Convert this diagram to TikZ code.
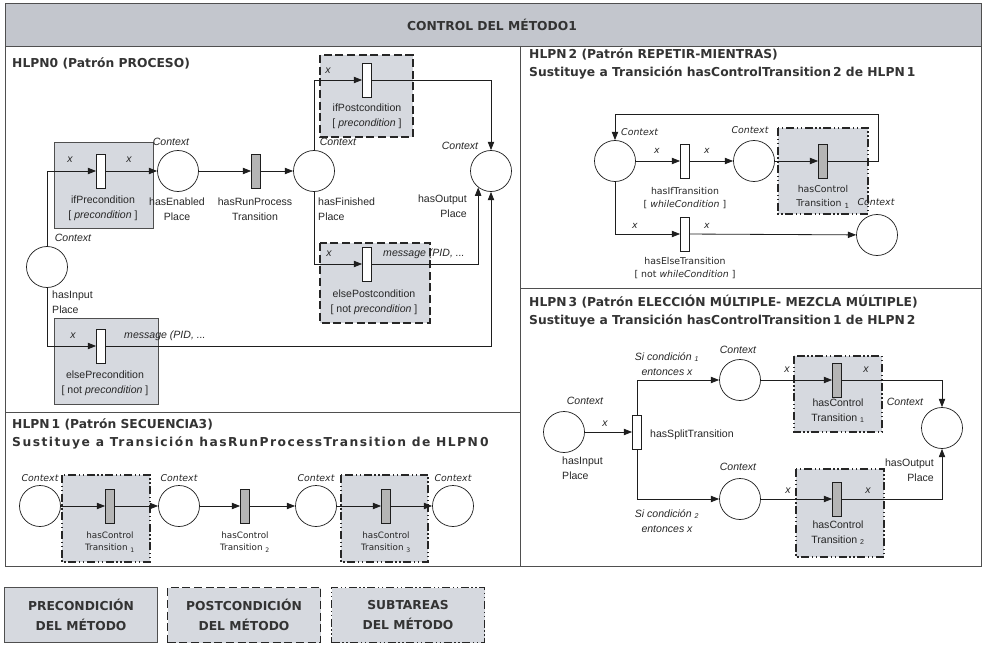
\documentclass[tikz,border=0pt]{standalone}
\usepackage{fontspec}
\setmainfont{Liberation Sans}
\newfontfamily\dejavu{DejaVu Sans}
\newfontfamily\dejavuwide[LetterSpace=12]{DejaVu Sans}
\usepackage{tikz}
\usetikzlibrary{arrows.meta}
\definecolor{HeadGray}{HTML}{C3C6CD}
\definecolor{BoxGray}{HTML}{D6D9DF}
\definecolor{TransGray}{HTML}{B5B5B5}
\definecolor{FrameGray}{HTML}{4F4F4F}
\definecolor{ArcBlack}{HTML}{1E1E1E}

\begin{document}
\begin{tikzpicture}[x=0.3mm,y=-0.3mm,
  frame/.style={draw=FrameGray,line width=0.8pt},
  place/.style={circle,draw=ArcBlack,fill=white,line width=0.6pt,minimum size=12.3mm,inner sep=0pt},
  wtrans/.style={rectangle,draw=ArcBlack,fill=white,line width=0.6pt,minimum width=2.7mm,minimum height=10.2mm,inner sep=0pt},
  gtrans/.style={wtrans,fill=TransGray},
  arc/.style={draw=ArcBlack,line width=0.7pt,-{Triangle[length=2.5mm,width=1.9mm]}},
  prebox/.style={draw=FrameGray,fill=BoxGray,line width=0.8pt},
  postbox/.style={draw=black!85,fill=BoxGray,line width=1.5pt,dash pattern=on 2.4mm off 1.1mm},
  subbox/.style={draw=black!85,fill=BoxGray,line width=1.5pt,dash pattern=on 2.4mm off 0.8mm on 0.4mm off 0.8mm on 0.4mm off 0.8mm},
  lbl/.style={font=\fontsize{9}{12.5}\selectfont,text=black!85,align=center,inner sep=0pt},
  ctx/.style={lbl,font=\fontsize{9}{12.5}\selectfont\itshape},
  slbl/.style={font=\dejavu\fontsize{7.5}{10.5}\selectfont,text=black!85,align=center,inner sep=0pt},
  sctx/.style={slbl,font=\dejavu\fontsize{8}{10.5}\selectfont\itshape},
  mlbl/.style={font=\dejavu\fontsize{8}{11.5}\selectfont,text=black!85,align=center,inner sep=0pt},
  mctx/.style={mlbl,font=\dejavu\fontsize{8}{11.5}\selectfont\itshape},
  head/.style={font=\dejavu\bfseries\fontsize{10.5}{15.5}\selectfont,text=black!80,align=left,inner sep=0pt},
  legend/.style={head,font=\dejavu\bfseries\fontsize{10.5}{17}\selectfont,align=center,minimum width=45.9mm,minimum height=16.5mm}]
  \useasboundingbox (0,0) rectangle (982,649);

  % frame and header
  \draw[frame,fill=HeadGray] (5,3) rectangle (981,46);
  \node[head] (mainT) at (492,25) {CONTROL DEL MÉTODO1};
  \draw[frame] (5,46) rectangle (981,566);
  \draw[frame] (520,46) -- (520,566);
  \draw[frame] (5,412) -- (520,412);
  \draw[frame] (520,288) -- (981,288);

  % HLPN0
  \node[head,anchor=west] (h0T) at (12,63) {HLPN0 (Patrón PROCESO)};
  \draw[prebox] (54,142) rectangle (153,228);
  \draw[postbox] (320,55) rectangle (413,137);
  \draw[postbox] (320,243) rectangle (430,323);
  \draw[prebox] (54,318) rectangle (158,404);
  \node[place] (inP) at (47,267) {};
  \node[wtrans] (ifPre) at (101,171) {};
  \node[place] (enP) at (178,171) {};
  \node[gtrans] (runT) at (256,171) {};
  \node[place] (finP) at (314,171) {};
  \node[wtrans] (ifPost) at (367,80) {};
  \node[wtrans] (elsePost) at (367,264) {};
  \node[place] (outP) at (491,171) {};
  \node[wtrans] (elsePre) at (101,346) {};
  \draw[arc] (inP.north) |- (ifPre.west);
  \draw[arc] (ifPre) -- (enP);
  \draw[arc] (enP) -- (runT);
  \draw[arc] (runT) -- (finP);
  \draw[arc] (finP.north) |- (ifPost.west);
  \draw[arc] (ifPost.east) -| (outP.north);
  \draw[arc] (finP.south) |- (elsePost.west);
  \draw[arc] (elsePost.east) -| (outP.-128);
  \draw[arc] (inP.south) |- (elsePre.west);
  \draw[arc] (elsePre.east) -| (outP.south);
  \node[ctx] (inPc) at (73,238) {Context};
  \node[ctx] (enPc) at (171,142) {Context};
  \node[ctx] (finPc) at (338,142) {Context};
  \node[ctx] (outPc) at (460,146) {Context};
  \node[lbl] (ifPreL) at (103,208) {ifPrecondition\\{[} \textit{precondition} {]}};
  \node[lbl] (enPL) at (177,209) {hasEnabled\\Place};
  \node[lbl] (runTL) at (255,209) {hasRunProcess\\Transition};
  \node[lbl,anchor=west,align=left] (finPL) at (318,209) {hasFinished\\Place};
  \node[lbl] (ifPostL) at (367,116) {ifPostcondition\\{[} \textit{precondition} {]}};
  \node[lbl] (elsePostL) at (374,302) {elsePostcondition\\{[} not \textit{precondition} {]}};
  \node[lbl,anchor=east,align=right] (outPL) at (467,206) {hasOutput\\Place};
  \node[lbl,anchor=west,align=left] (inPL) at (52,302) {hasInput\\Place};
  \node[lbl] (elsePreL) at (105,383) {elsePrecondition\\{[} not \textit{precondition} {]}};
  \node[ctx] (xa) at (70,160) {x};
  \node[ctx] (xb) at (129,160) {x};
  \node[ctx] (xc) at (328,71) {x};
  \node[ctx] (xd) at (329,254) {x};
  \node[ctx] (xe) at (73,336) {x};
  \node[ctx,anchor=west] (msgA) at (383,254) {message (PID, ...};
  \node[ctx,anchor=west] (msgB) at (124,336) {message (PID, ...};

  % HLPN1
  \node[head,anchor=west] (h1T) at (12,434) {HLPN\,1 (Patrón SECUENCIA3)\\{\dejavuwide\bfseries Sustituye a Transición hasRunProcessTransition de HLPN\,0}};
  \draw[subbox] (62,475) rectangle (150,562);
  \draw[subbox] (341,475) rectangle (428,562);
  \foreach \nm/\px in {s1/40,s2/179,s3/316,s4/453}{
    \node[place] (\nm) at (\px,506) {};
    \node[sctx] (\nm-c) at (\px,478) {Context};
  }
  \foreach \nm/\px/\k in {ct1/110/1,ct2/245/2,ct3/386/3}{
    \node[gtrans] (\nm) at (\px,506) {};
    \node[slbl] (\nm-l) at (\px,542) {hasControl\\Transition \textsubscript{\k}};
  }
  \foreach \a/\b in {s1/ct1,ct1/s2,s2/ct2,ct2/s3,s3/ct3,ct3/s4}
    \draw[arc] (\a) -- (\b);

  % HLPN2
  \node[head,anchor=west] (h2T) at (529,64) {HLPN\,2 (Patrón REPETIR-MIENTRAS)\\Sustituye a Transición hasControlTransition\,2 de HLPN\,1};
  \draw[subbox] (778,128) rectangle (868,214);
  \node[place] (q1) at (615,161) {};
  \node[wtrans] (ifT) at (685,161) {};
  \node[place] (q2) at (754,161) {};
  \node[gtrans] (loopT) at (823,161) {};
  \node[wtrans] (elseT) at (685,234) {};
  \node[place] (q3) at (877,235) {};
  \coordinate (loopC) at (878,114);
  \draw[arc] (q1) -- (ifT);
  \draw[arc] (ifT) -- (q2);
  \draw[arc] (q2) -- (loopT);
  \draw[arc] (loopT.east) -| (loopC) -| (q1.north);
  \draw[arc] (q1.south) |- (elseT.west);
  \draw[arc] (elseT) -- (q3);
  \node[mctx,anchor=west] (q1c) at (621,132) {Context};
  \node[mctx] (q2c) at (750,130) {Context};
  \node[mctx] (q3c) at (876,202) {Context};
  \node[mctx] (xf) at (657,151) {x};
  \node[mctx] (xg) at (707,151) {x};
  \node[mctx] (xh) at (635,226) {x};
  \node[mctx] (xi) at (707,226) {x};
  \node[mlbl] (ifTL) at (685,198) {hasIfTransition\\{[} \textit{whileCondition} {]}};
  \node[mlbl] (loopTL) at (823,197) {hasControl\\Transition \textsubscript{1}};
  \node[mlbl] (elseTL) at (685,268) {hasElseTransition\\{[} not \textit{whileCondition} {]}};

  % HLPN3
  \node[head,anchor=west] (h3T) at (529,311) {HLPN\,3 (Patrón ELECCIÓN MÚLTIPLE- MEZCLA MÚLTIPLE)\\Sustituye a Transición hasControlTransition\,1 de HLPN\,2};
  \draw[subbox] (794,356) rectangle (882,432);
  \draw[subbox] (796,469) rectangle (884,557);
  \node[place] (inQ) at (564,432) {};
  \node[wtrans] (splitT) at (637,432) {};
  \node[place] (upQ) at (740,380) {};
  \node[place] (lowQ) at (740,499) {};
  \node[gtrans] (c1T) at (837,380) {};
  \node[gtrans] (c2T) at (837,499) {};
  \node[place] (outQ) at (942,428) {};
  \draw[arc] (inQ) -- (splitT);
  \draw[arc] (splitT.north) |- (upQ.west);
  \draw[arc] (splitT.south) |- (lowQ.west);
  \draw[arc] (upQ) -- (c1T);
  \draw[arc] (c1T.east) -| (outQ.north);
  \draw[arc] (lowQ) -- (c2T);
  \draw[arc] (c2T.east) -| (outQ.south);
  \node[ctx] (inQc) at (585,401) {Context};
  \node[ctx] (upQc) at (738,350) {Context};
  \node[ctx] (lowQc) at (738,467) {Context};
  \node[ctx] (outQc) at (905,402) {Context};
  \node[lbl,anchor=west,align=left] (inQL) at (562,468) {hasInput\\Place};
  \node[lbl,anchor=east,align=right] (outQL) at (934,470) {hasOutput\\Place};
  \node[lbl,anchor=west] (splitTL) at (650,435) {hasSplitTransition};
  \node[ctx] (cond1) at (667,364) {Si condición \textsubscript{1}\\entonces x};
  \node[ctx] (cond2) at (667,521) {Si condición \textsubscript{2}\\entonces x};
  \node[ctx] (xj) at (605,424) {x};
  \node[ctx] (xk) at (787,370) {x};
  \node[ctx] (xl) at (866,370) {x};
  \node[ctx] (xm) at (788,491) {x};
  \node[ctx] (xn) at (868,491) {x};
  \node[lbl] (c1TL) at (838,411) {hasControl\\Transition \textsubscript{1}};
  \node[lbl] (c2TL) at (838,533) {hasControl\\Transition \textsubscript{2}};

  % legend
  \foreach \nm/\st/\cx/\txt in {legPre/prebox/81/PRECONDICIÓN,legPost/postbox/244/POSTCONDICIÓN,legSub/subbox/408/SUBTAREAS}
    \node[\st,legend] (\nm) at (\cx,615) {\txt\\DEL MÉTODO};
\end{tikzpicture}
\end{document}
